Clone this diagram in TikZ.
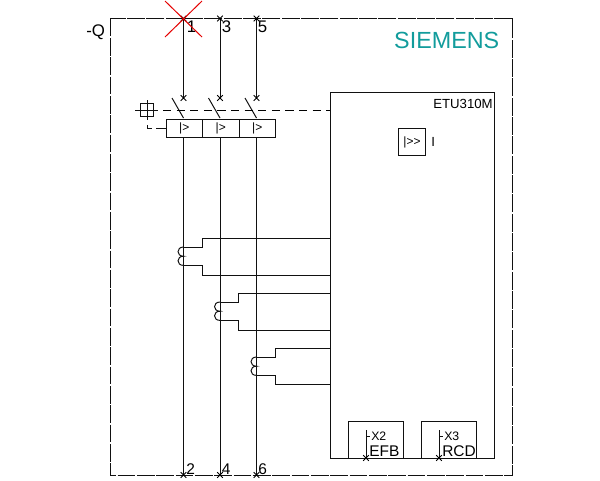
\documentclass[tikz,border=0pt]{standalone}
\usepackage{fontspec}
\setmainfont{Liberation Sans}
\definecolor{lnc}{HTML}{111111}
\definecolor{teal1}{HTML}{129C9C}
\tikzset{
 px/.style={x=0.75pt,y=-0.75pt},
 ln/.style={draw=lnc,line width=0.74pt},
 frm/.style={draw=lnc,line width=0.74pt,dash pattern=on 13.4pt off 1.1pt},
 dsh/.style={draw=black,line width=0.74pt,dash pattern=on 6.2pt off 4pt},
 tripbox/.style={draw=lnc,line width=0.74pt,inner sep=0pt,anchor=north west,font=\fontsize{9pt}{10pt}\selectfont},
 small1/.style={inner sep=0pt,text=black,font=\fontsize{9.9pt}{11pt}\selectfont},
 lbl2/.style={inner sep=0pt,text=black,font=\fontsize{9.2pt}{10pt}\selectfont},
 lbl3/.style={inner sep=0pt,text=black,font=\fontsize{11.6pt}{12pt}\selectfont},
 lbl4/.style={inner sep=0pt,text=black,font=\fontsize{12.6pt}{14pt}\selectfont},
}
\newcommand{\xm}[2]{\draw[#2,line width=0.74pt] ([shift={(-2.8,-2.8)}]#1) -- ([shift={(2.8,2.8)}]#1) ([shift={(-2.8,2.8)}]#1) -- ([shift={(2.8,-2.8)}]#1);}
\begin{document}
\begin{tikzpicture}[px]
\useasboundingbox[fill=white] (0,0) rectangle (600,480);
% frame
\draw[frm] (110,18.5) rectangle (512,475);
% coordinates
\foreach \n/\x in {a/183.5,b/220,c/256.5}{
 \coordinate (\n t) at (\x,18.5);
 \coordinate (\n x) at (\x,98);
 \coordinate (\n s) at (\x-11.5,98);
 \coordinate (\n e) at (\x,118);
 \coordinate (\n m) at (\x,137);
 \coordinate (\n b) at (\x,475);
 \draw[ln] (\n t) -- (\n x);
 \draw[ln] (\n s) -- (\n e);
 \draw[ln] (\n m) -- (\n b);
 \xm{\n x}{black}
 \xm{\n t}{black}
 \xm{\n b}{black}
}
% main trip blocks
\node[tripbox,minimum width=27.4pt,minimum height=13.5pt] (t1) at (165.5,119) {|>};
\node[tripbox,minimum width=27.4pt,minimum height=13.5pt] (t2) at (202,119) {|>};
\node[tripbox,minimum width=27.4pt,minimum height=13.5pt] (t3) at (238.5,119) {|>};
% ETU
\node[draw=lnc,line width=0.74pt,minimum width=123pt,minimum height=274.5pt,inner sep=0pt,anchor=north west] (etu) at (330,92) {};
% mechanism
\coordinate (dl) at (163,110);
\coordinate (dr) at (330,110);
\draw[dsh] (dl) -- (dr);
\node[draw=lnc,line width=0.74pt,minimum size=10.2pt,inner sep=0pt] (sq) at (147,110) {};
\draw[ln] (135,110) -- (158,110);
\draw[ln] (147,100) -- (147,120);
\coordinate (h1) at (147,125);
\coordinate (h2) at (147,128);
\coordinate (h3) at (152,128);
\draw[ln] (h1) -- (h2) -- (h3);
\draw[ln] (156,128) -- (t1.west |- 0,128);
% coils
\foreach \x/\yy/\sx/\ya/\yb in {183.5/247/202/238.5/275.5, 220/302/238.5/293/330, 256.5/357/275/348/384.5}{
 \draw[ln] (\x,\yy) .. controls (\x-7.3,\yy) and (\x-7.3,\yy+9.2) .. (\x,\yy+9.2)
   .. controls (\x-7.3,\yy+9.2) and (\x-7.3,\yy+18.4) .. (\x,\yy+18.4);
 \draw[ln] (\x,\yy) -- (\sx,\yy) -- (\sx,\ya) -- (330,\ya);
 \draw[ln] (\x,\yy+18.4) -- (\sx,\yy+18.4) -- (\sx,\yb) -- (330,\yb);
}
% sub blocks
\draw[ln] (348,458) -- (348,421) -- (403,421) -- (403,458);
\draw[ln] (421,458) -- (421,421) -- (476,421) -- (476,458);
\foreach \x in {366,439}{
 \draw[ln] (\x,458) -- (\x,430);
 \draw[ln] (\x,436) -- (\x+3.5,436);
 \xm{\x,458}{black}
}
% I>> block
\node[draw=lnc,line width=0.74pt,minimum size=20.6pt,inner sep=0pt,font=\fontsize{9pt}{10pt}\selectfont] (ins) at (412,142) {|>{}>};
% text
\node[small1,anchor=east] (etut) at (493,104) {ETU310M};
\node[small1,anchor=west] (insl) at (431,142) {I};
\node[inner sep=0pt,text=teal1,font=\fontsize{17.5pt}{20pt}\selectfont,anchor=east] (sie) at (499.5,40) {SIEMENS};
\node[lbl4,anchor=west] (q) at (86,32) {-Q};
\foreach \n/\x/\s in {l1/186.5/1,l3/221.5/3,l5/257.5/5}{
 \node[lbl4,anchor=west] (\n) at (\x,27) {\s};
}
\foreach \n/\x/\s in {b2/186/2,b4/221.5/4,b6/258/6}{
 \node[lbl3,anchor=west] (\n) at (\x,469) {\s};
}
\node[lbl2,anchor=west] (x2) at (371,436) {X2};
\node[lbl2,anchor=west] (x3) at (444,436) {X3};
\node[lbl3,anchor=west] (efb) at (369,451) {EFB};
\node[lbl3,anchor=west] (rcd) at (442,451) {RCD};
% red cross
\coordinate (r1) at (165,1);
\coordinate (r2) at (202,37);
\coordinate (r3) at (202,1);
\coordinate (r4) at (165,37);
\draw[red!90!black,line width=0.74pt] (r1) -- (r2) (r3) -- (r4);
\end{tikzpicture}
\end{document}
